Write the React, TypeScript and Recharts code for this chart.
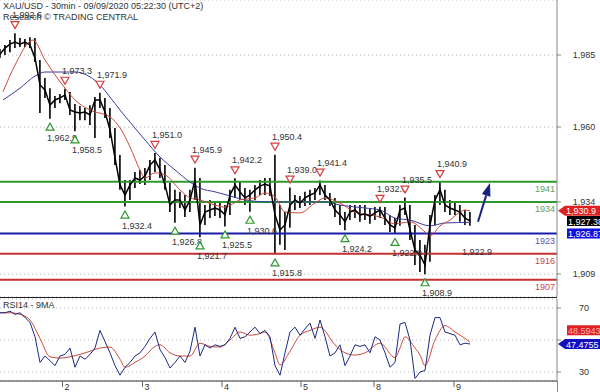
import React from 'react';
import {
  ComposedChart, Line, Bar, Scatter, XAxis, YAxis, CartesianGrid, ReferenceLine,
} from 'recharts';

const FONT = '"Liberation Sans", Arial, sans-serif';

// XAU/USD 30min, one entry per ~2.5h step (index)
const highs = [
  1987.1, 1988.5, 1990.2, 1992.6, 1990.9, 1990.6, 1991.2, 1990.9, 1983.3, 1977.0,
  1973.5, 1970.8, 1971.5, 1973.3, 1972.2, 1968.0, 1967.3, 1966.6, 1967.6, 1970.4,
  1971.9, 1970.1, 1966.6, 1959.7, 1950.3, 1941.6, 1941.6, 1944.4, 1945.1, 1945.8,
  1948.6, 1951.0, 1949.3, 1946.8, 1940.6, 1938.2, 1937.5, 1936.4, 1938.2, 1945.9,
  1942.3, 1932.9, 1934.7, 1934.0, 1933.6, 1932.9, 1938.2, 1942.2, 1940.9, 1938.8,
  1938.2, 1939.9, 1941.6, 1942.3, 1942.3, 1950.4, 1932.9, 1930.5, 1939.0, 1936.4,
  1936.1, 1937.5, 1938.2, 1938.8, 1941.4, 1939.9, 1937.1, 1935.4, 1932.9, 1930.5,
  1932.9, 1932.9, 1932.9, 1932.9, 1931.9, 1932.2, 1932.3, 1932.2, 1929.5, 1928.4,
  1932.9, 1935.5, 1932.9, 1926.0, 1920.8, 1919.1, 1929.5, 1936.4, 1940.9, 1938.2,
  1934.7, 1934.0, 1932.9, 1931.2, 1930.5,
];
const lows = [
  1984.0, 1985.0, 1986.0, 1987.4, 1987.8, 1987.8, 1987.4, 1982.6, 1964.9, 1970.1,
  1962.9, 1966.6, 1968.3, 1969.4, 1964.2, 1958.5, 1962.4, 1962.4, 1960.7, 1956.2,
  1966.6, 1963.1, 1956.2, 1946.8, 1938.2, 1932.4, 1934.7, 1938.8, 1940.2, 1939.9,
  1941.6, 1944.4, 1942.3, 1938.2, 1930.5, 1926.8, 1931.9, 1928.8, 1930.5, 1934.7,
  1921.7, 1926.0, 1928.4, 1929.1, 1928.4, 1925.5, 1929.5, 1935.4, 1934.7, 1932.9,
  1930.6, 1934.7, 1936.4, 1936.4, 1936.1, 1915.8, 1919.1, 1917.3, 1925.0, 1931.2,
  1931.9, 1932.6, 1932.9, 1934.7, 1936.4, 1934.7, 1932.6, 1928.8, 1926.0, 1924.2,
  1927.7, 1928.4, 1927.1, 1927.7, 1926.4, 1927.7, 1928.4, 1926.0, 1923.6, 1922.9,
  1925.7, 1929.5, 1920.8, 1912.1, 1909.7, 1908.9, 1913.2, 1926.0, 1932.9, 1930.5,
  1929.5, 1929.5, 1927.1, 1926.0, 1925.7,
];
const closes = [
  1985.3, 1987.4, 1988.8, 1989.5, 1988.8, 1989.5, 1988.5, 1984.0, 1974.6, 1972.9,
  1967.6, 1969.4, 1970.1, 1971.1, 1965.9, 1965.2, 1964.9, 1965.2, 1964.2, 1969.4,
  1969.4, 1965.2, 1959.0, 1949.3, 1939.9, 1936.4, 1939.9, 1942.3, 1941.6, 1943.0,
  1946.8, 1948.6, 1945.1, 1939.9, 1932.9, 1934.7, 1934.7, 1931.2, 1934.7, 1941.6,
  1926.0, 1930.5, 1931.2, 1931.9, 1931.2, 1929.5, 1936.4, 1939.9, 1937.5, 1935.4,
  1936.4, 1938.2, 1939.5, 1940.2, 1939.5, 1929.5, 1924.3, 1926.0, 1932.9, 1934.7,
  1933.6, 1935.4, 1936.4, 1937.1, 1939.9, 1936.4, 1934.7, 1931.2, 1929.5, 1927.1,
  1930.5, 1931.2, 1929.5, 1929.8, 1929.1, 1930.2, 1931.2, 1928.4, 1926.0, 1925.0,
  1931.2, 1931.9, 1924.3, 1917.3, 1915.6, 1912.1, 1926.0, 1934.7, 1938.2, 1932.9,
  1931.9, 1931.2, 1930.5, 1928.4, 1927.4,
];

// moving averages (read at selected points)
const redMaIdx = [0.6, 3, 6.6, 9, 11, 13, 15, 18, 22, 24, 26, 28, 29, 31, 33, 36, 38, 40, 43, 45, 48, 51, 53, 55, 57, 60, 63, 65, 68, 71, 74, 76, 79, 82, 85, 86, 88, 90, 92, 93, 94];
const redMaVal = [1972.2, 1981.5, 1990.2, 1983.3, 1978.1, 1973.5, 1969.4, 1965.9, 1963.5, 1959.7, 1953.1, 1945.1, 1942.3, 1944.1, 1943.4, 1938.2, 1935.4, 1934.7, 1932.9, 1932.2, 1934.7, 1935.4, 1937.1, 1935.7, 1930.5, 1930.2, 1933.6, 1935.4, 1933.6, 1930.5, 1929.5, 1928.8, 1926.4, 1927.1, 1923.6, 1922.2, 1925.7, 1927.7, 1930.5, 1931.2, 1930.9];
const blueMaIdx = [0.6, 4, 7, 9, 15, 18, 20, 22, 24, 26, 29, 32, 35, 38, 40, 43, 46, 49, 54, 60, 65, 68, 73, 76, 79, 82, 86, 89, 94];
const blueMaVal = [1969.4, 1973.5, 1977.7, 1979.1, 1979.1, 1977.4, 1974.6, 1970.4, 1965.9, 1961.7, 1955.5, 1949.6, 1945.1, 1940.9, 1938.8, 1937.5, 1936.1, 1934.7, 1934.0, 1934.0, 1934.0, 1932.9, 1931.9, 1931.2, 1928.4, 1927.7, 1925.7, 1926.7, 1926.9];

const pivotHighIdx = [3, 13, 20, 31, 39, 47, 55, 58, 64, 76, 81, 88];
const pivotHighVal = [1992.6, 1973.3, 1971.9, 1951.0, 1945.9, 1942.2, 1950.4, 1939.0, 1941.4, 1932.3, 1935.5, 1940.9];
const pivotLowIdx = [10, 15, 25, 35, 40, 45, 50, 55, 69, 79, 85];
const pivotLowVal = [1962.9, 1958.5, 1932.4, 1926.8, 1921.7, 1925.5, 1930.6, 1915.8, 1924.2, 1922.9, 1908.9];

const levels = [1941, 1934, 1923, 1916, 1907];
const levelColors = ['#2e9a2e', '#2e9a2e', '#1c1ca8', '#c63030', '#c63030'];
const levelTextColors = ['#5c9e5c', '#5c9e5c', '#5656a8', '#c94848', '#c94848'];

const priceTicks = [1909, 1934, 1960, 1985];
const lastRedMa = 1930.9;
const lastPrice = 1927.38;
const lastBlueMa = 1926.87;
const arrowFrom = { x: 95.6, y: 1927.1 };
const arrowTo = { x: 98, y: 1940.6 };

const rsi = [
  67, 67, 68, 66, 67, 64, 61, 52, 36, 40,
  37, 34, 40, 41, 45, 33, 40, 38, 41, 45,
  56, 49, 42, 34, 28, 33, 36, 40, 42, 46,
  51, 55, 44, 39, 32.5, 36, 40, 36, 43, 58,
  40, 47, 45, 47, 46, 47, 51, 58, 51, 52,
  55, 58, 54, 56, 52, 34, 28, 42, 55, 58,
  53, 57, 60.6, 51, 62.5, 52, 40, 42, 47, 34,
  40, 47, 46, 47, 42, 52, 50, 42, 33, 36,
  60, 61, 50, 26, 30, 31, 53, 64, 64, 55,
  54, 53, 47, 48, 47.5,
];
const rsiMaIdx = [0, 2, 4, 6, 8, 10, 12, 14, 16, 18, 20, 22, 24, 25, 27, 29, 31, 32, 34, 36, 38, 40, 42, 44, 46, 48, 50, 52, 53, 55, 56, 58, 60, 62, 64, 67, 69, 71, 73, 76, 79, 80, 81, 83, 84, 85, 87, 89, 91, 93, 94];
const rsiMaVal = [67, 67, 66, 62.5, 51, 39.5, 38.7, 39.5, 41, 43, 45, 45.6, 38, 33, 36, 40, 46, 47, 42, 40, 40, 48, 46, 45.6, 50, 55, 53, 54, 55, 42, 34.4, 43, 53, 56, 58, 47, 42, 40.6, 42, 48, 39, 45, 52, 45, 40.6, 34, 50, 59, 55, 51, 48.6];
const rsiTicks = [30, 50, 70];
const rsiLast = 47.4755;
const rsiMaLast = 48.5943;

const dayTicks = [12.5, 28.5, 44.4, 60.2, 74.8, 90.8];
const dayLabels = ['2', '3', '4', '5', '8', '9'];

const X_DOMAIN = [0, 111.4];

const bars = closes.map((c, i) => ({ i, range: [lows[i], highs[i]], close: c }));
const redMa = redMaIdx.map((i, k) => ({ i, v: redMaVal[k] }));
const blueMa = blueMaIdx.map((i, k) => ({ i, v: blueMaVal[k] }));
const highPts = pivotHighIdx.map((i, k) => ({ i, v: pivotHighVal[k] }));
const lowPts = pivotLowIdx.map((i, k) => ({ i, v: pivotLowVal[k] }));
const rsiData = rsi.map((v, i) => ({ i, v }));
const rsiMa = rsiMaIdx.map((i, k) => ({ i, v: rsiMaVal[k] }));

const fmt1 = (n: number) => n.toLocaleString('en-US', { minimumFractionDigits: 1, maximumFractionDigits: 1 });

const HighMark = (p: any) => {
  const { cx, cy, payload } = p;
  const ty = cy - 8;
  return (
    <g>
      <polygon points={`${cx - 4},${ty - 3.5} ${cx + 4},${ty - 3.5} ${cx},${ty + 3.5}`} fill="#fff" stroke="#d63c3c" strokeWidth={1.2} />
      <text x={cx - 3} y={ty - 7} fontSize={9} fill="#333" fontFamily={FONT}>{fmt1(payload.v)}</text>
    </g>
  );
};

const LowMark = (p: any) => {
  const { cx, cy, payload } = p;
  const ty = cy + 8;
  return (
    <g>
      <polygon points={`${cx - 4},${ty + 3.5} ${cx + 4},${ty + 3.5} ${cx},${ty - 3.5}`} fill="#fff" stroke="#2e9a2e" strokeWidth={1.2} />
      <text x={cx - 3} y={ty + 14} fontSize={9} fill="#333" fontFamily={FONT}>{fmt1(payload.v)}</text>
    </g>
  );
};

const LevelLabel = (p: any) => {
  const { viewBox, txt, color } = p;
  return (
    <text x={viewBox.x + viewBox.width - 2} y={viewBox.y + 10} textAnchor="end" fontSize={9} fill={color} fontFamily={FONT}>{txt}</text>
  );
};

const Tag = (p: any) => {
  const { viewBox, txt, bg, fg = '#fff', dy = 0, arrow = false } = p;
  const x0 = viewBox.x + viewBox.width;
  const y = viewBox.y + dy;
  const left = x0 + (arrow ? 8 : 10);
  const pts = arrow
    ? `${x0 + 1},${y} ${left},${y - 5} 600,${y - 5} 600,${y + 5} ${left},${y + 5}`
    : `${left},${y - 5} 600,${y - 5} 600,${y + 5} ${left},${y + 5}`;
  return (
    <g>
      <polygon points={pts} fill={bg} />
      <text x={left + 1} y={y + 3.5} fontSize={9} fill={fg} fontFamily={FONT}>{txt}</text>
    </g>
  );
};

const Arrow = (p: any) => {
  const { x1, y1, x2, y2 } = p;
  const dx = x2 - x1;
  const dy = y2 - y1;
  const len = Math.sqrt(dx * dx + dy * dy) || 1;
  const ux = dx / len;
  const uy = dy / len;
  const bx = x2 - ux * 13;
  const by = y2 - uy * 13;
  return (
    <g>
      <line x1={x1} y1={y1} x2={bx} y2={by} stroke="#1a237e" strokeWidth={2} />
      <polygon points={`${x2},${y2} ${bx - uy * 4.5},${by + ux * 4.5} ${bx + uy * 4.5},${by - ux * 4.5}`} fill="#1a237e" />
    </g>
  );
};

const PriceTick = (p: any) => {
  const { x, y, payload } = p;
  return (
    <text x={x + 21} y={y + 3} textAnchor="middle" fontSize={9} fill="#333" fontFamily={FONT}>
      {payload.value.toLocaleString('en-US')}
    </text>
  );
};

const RsiTick = (p: any) => {
  const { x, y, payload } = p;
  if (payload.value === 50) return null;
  return (
    <text x={x + 21} y={y + 3} textAnchor="middle" fontSize={9} fill="#333" fontFamily={FONT}>{payload.value}</text>
  );
};

const DayTick = (p: any) => {
  const { x, y, payload } = p;
  const k = dayTicks.indexOf(payload.value);
  return (
    <g>
      <line x1={x} y1={y} x2={x} y2={y + 6} stroke="#666" />
      <text x={x + 2} y={y + 9} fontSize={9} fill="#333" fontFamily={FONT}>{dayLabels[k]}</text>
    </g>
  );
};

const textStyle: React.CSSProperties = {
  position: 'absolute', left: 3, fontSize: 9, fontFamily: FONT, color: '#333', whiteSpace: 'nowrap', lineHeight: '10px',
};

export default function App() {
  return (
    <div style={{ position: 'absolute', left: 0, top: 0, width: 600, height: 392, background: '#fff', overflow: 'hidden' }}>
      <ComposedChart width={600} height={297} data={bars} margin={{ top: 0, right: 0, bottom: 0, left: 0 }}>
        <CartesianGrid vertical={false} strokeDasharray="1 3" stroke="#b5b5b5" />
        <XAxis type="number" dataKey="i" domain={X_DOMAIN} hide allowDataOverflow />
        <YAxis orientation="right" width={43} domain={[1901, 2004.1]} ticks={priceTicks} allowDataOverflow
          axisLine={{ stroke: '#888' }} tickLine={{ stroke: '#888' }} tickSize={4} tick={<PriceTick />} />
        {levels.map((lv, k) => (
          <ReferenceLine key={lv} y={lv} stroke={levelColors[k]} strokeWidth={2}
            label={<LevelLabel txt={String(lv)} color={levelTextColors[k]} />} />
        ))}
        <Line data={blueMa} dataKey="v" type="monotone" stroke="#3b3ba0" strokeWidth={1} dot={false} activeDot={false} isAnimationActive={false} />
        <Line data={redMa} dataKey="v" type="monotone" stroke="#cc4a3c" strokeWidth={1} dot={false} activeDot={false} isAnimationActive={false} />
        <Bar dataKey="range" barSize={3} fill="#1a1a1a" isAnimationActive={false} />
        <Line dataKey="close" type="linear" stroke="#000" strokeWidth={1.5} dot={false} activeDot={false} isAnimationActive={false} />
        <Scatter data={highPts} dataKey="v" shape={HighMark} isAnimationActive={false} />
        <Scatter data={lowPts} dataKey="v" shape={LowMark} isAnimationActive={false} />
        <ReferenceLine segment={[arrowFrom, arrowTo]} shape={Arrow} />
        <ReferenceLine y={lastRedMa} stroke="transparent" label={<Tag txt={fmt1(lastRedMa)} bg="#e02020" arrow />} />
        <ReferenceLine y={lastPrice} stroke="transparent" label={<Tag txt={lastPrice.toLocaleString('en-US', { minimumFractionDigits: 2 })} bg="#000" />} />
        <ReferenceLine y={lastBlueMa} stroke="transparent" label={<Tag txt={lastBlueMa.toLocaleString('en-US', { minimumFractionDigits: 2 })} bg="#1010e0" dy={11} />} />
      </ComposedChart>
      <div style={{ position: 'absolute', left: 0, top: 297, width: 557, borderTop: '1px solid #222' }} />
      <div style={{ position: 'absolute', left: 557, top: 381, height: 11, borderLeft: '1px solid #888' }} />
      <div style={{ position: 'absolute', left: 0, top: 297 }}>
        <ComposedChart width={600} height={95} data={rsiData} margin={{ top: 2, right: 0, bottom: 0, left: 0 }}>
          <CartesianGrid vertical={false} strokeDasharray="1 3" stroke="#b5b5b5" />
          <XAxis type="number" dataKey="i" domain={X_DOMAIN} ticks={dayTicks} height={11} allowDataOverflow
            axisLine={{ stroke: '#333' }} tickLine={false} tickSize={0} tickMargin={0} tick={<DayTick />} />
          <YAxis orientation="right" width={43} domain={[24.4, 75.6]} ticks={rsiTicks} allowDataOverflow
            axisLine={{ stroke: '#888' }} tickLine={{ stroke: '#888' }} tickSize={4} tick={<RsiTick />} />
          <Line data={rsiMa} dataKey="v" type="monotone" stroke="#cc4a3c" strokeWidth={1} dot={false} activeDot={false} isAnimationActive={false} />
          <Line dataKey="v" type="linear" stroke="#1c2a80" strokeWidth={1} dot={false} activeDot={false} isAnimationActive={false} />
          <ReferenceLine y={rsiMaLast} stroke="transparent" label={<Tag txt={String(rsiMaLast)} bg="#e02020" fg="#fbb" dy={-12} />} />
          <ReferenceLine y={rsiLast} stroke="transparent" label={<Tag txt={String(rsiLast)} bg="#1010c0" arrow />} />
        </ComposedChart>
      </div>
      <div style={{ ...textStyle, top: 1 }}>XAU/USD - 30min - 09/09/2020 05:22:30 (UTC+2)</div>
      <div style={{ ...textStyle, top: 12 }}>Research © TRADING CENTRAL</div>
      <div style={{ ...textStyle, top: 300 }}>RSI14 - 9MA</div>
      <div style={{ ...textStyle, left: 462, top: 247 }}>1,922.9</div>
    </div>
  );
}
